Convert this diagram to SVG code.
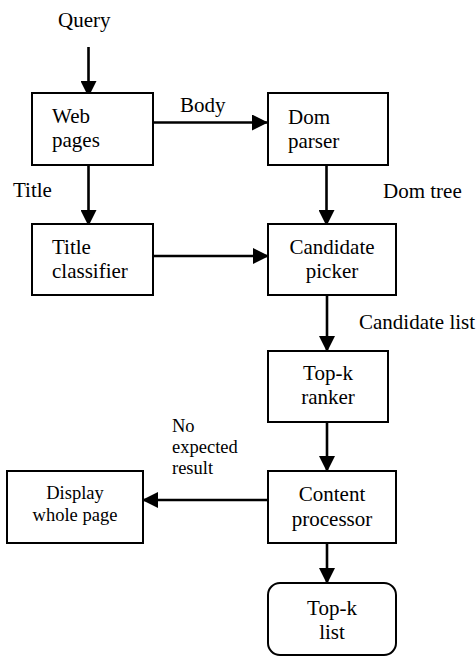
<svg xmlns="http://www.w3.org/2000/svg" width="476" height="657" viewBox="0 0 476 657">
<defs>
<marker id="ah" markerUnits="userSpaceOnUse" markerWidth="16" markerHeight="16" viewBox="0 0 14 14" refX="14" refY="7" orient="auto">
<path d="M0,0 L14,7 L0,14 Z" fill="#000"/>
</marker>
<style>
.box{fill:#fff;stroke:#000;stroke-width:2}
.t{font-family:"Liberation Serif","Times New Roman",serif;font-size:21px;fill:#000}
.s{font-family:"Liberation Serif","Times New Roman",serif;font-size:18.5px;fill:#000}
.c{text-anchor:middle}
.ln{stroke:#000;stroke-width:2.6;fill:none;marker-end:url(#ah)}
</style>
</defs>
<rect width="476" height="657" fill="#fff"/>
<g id="connectors">
<line class="ln" x1="88.5" y1="47" x2="88.5" y2="97"/>
<line class="ln" x1="153" y1="122.5" x2="268" y2="122.5"/>
<line class="ln" x1="88.5" y1="158" x2="88.5" y2="226"/>
<line class="ln" x1="326.5" y1="156" x2="326.5" y2="226"/>
<line class="ln" x1="153" y1="256" x2="269" y2="256"/>
<line class="ln" x1="327" y1="295" x2="327" y2="352"/>
<line class="ln" x1="327" y1="422" x2="327" y2="472"/>
<line class="ln" x1="268" y1="500" x2="142" y2="500"/>
<line class="ln" x1="327" y1="541" x2="327" y2="584"/>
<text class="t" x="58" y="27">Query</text>
<text class="t" x="180" y="112">Body</text>
<text class="t" x="13" y="197">Title</text>
<text class="t" x="383" y="198">Dom tree</text>
<text class="t" x="359" y="329">Candidate list</text>
<text class="s" x="172" y="432">No</text>
<text class="s" x="172" y="453">expected</text>
<text class="s" x="172" y="474">result</text>
</g>
<g id="web-pages">
<rect class="box" x="32" y="93" width="121" height="72"/>
<text class="t" x="52" y="123">Web</text>
<text class="t" x="52" y="147">pages</text>
</g>
<g id="dom-parser">
<rect class="box" x="268" y="93" width="120" height="72"/>
<text class="t" x="288" y="124">Dom</text>
<text class="t" x="288" y="148">parser</text>
</g>
<g id="title-classifier">
<rect class="box" x="32" y="224" width="121" height="71"/>
<text class="t" x="52" y="254">Title</text>
<text class="t" x="52" y="278">classifier</text>
</g>
<g id="candidate-picker">
<rect class="box" x="268" y="224" width="128" height="71"/>
<text class="t c" x="332" y="254">Candidate</text>
<text class="t c" x="332" y="278">picker</text>
</g>
<g id="top-k-ranker">
<rect class="box" x="268" y="351" width="120" height="71"/>
<text class="t c" x="328" y="380">Top-k</text>
<text class="t c" x="328" y="404">ranker</text>
</g>
<g id="content-processor">
<rect class="box" x="268" y="471" width="128" height="72"/>
<text class="t c" x="332" y="501">Content</text>
<text class="t c" x="332" y="526">processor</text>
</g>
<g id="display-whole-page">
<rect class="box" x="7" y="471" width="136" height="72"/>
<text class="s c" x="75" y="499">Display</text>
<text class="s c" x="75" y="521">whole page</text>
</g>
<g id="top-k-list">
<rect class="box" x="268" y="583" width="128" height="72" rx="12" ry="12"/>
<text class="t c" x="332" y="615">Top-k</text>
<text class="t c" x="332" y="639">list</text>
</g>
</svg>
